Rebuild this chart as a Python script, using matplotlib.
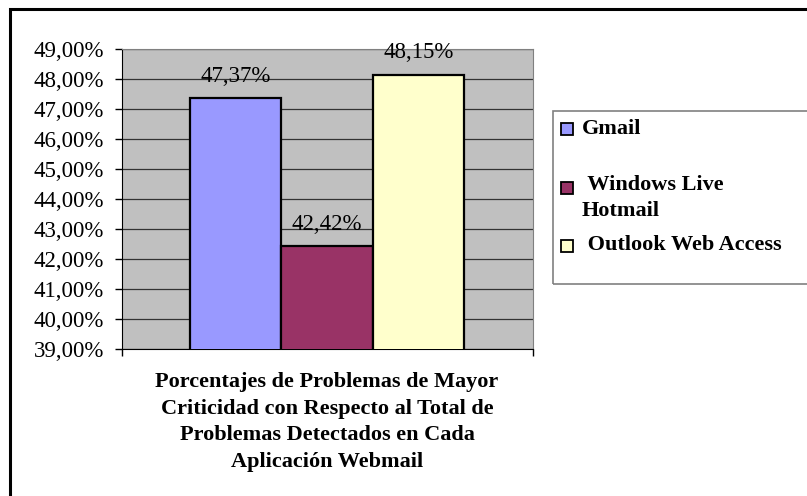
import matplotlib.pyplot as plt
from matplotlib.patches import Rectangle
from matplotlib.ticker import FuncFormatter

# data
apps = ['Gmail', ' Windows Live\nHotmail', ' Outlook Web Access']
values = [47.37, 42.42, 48.15]
colors = ['#9999FF', '#993366', '#FFFFCC']
title = ('Porcentajes de Problemas de Mayor\nCriticidad con Respecto al Total de\n'
         'Problemas Detectados en Cada\nAplicación Webmail')

plt.rcParams['font.family'] = ['Liberation Serif', 'DejaVu Serif']

W, H = 807, 496
fig = plt.figure(figsize=(W / 100, H / 100), dpi=100)


def fx(x):
    return x / W


def fy(y):
    return 1 - y / H


# outer frame (only top/left visible in the reference)
fig.add_artist(Rectangle((fx(10), fy(530)), fx(840), 530 / H - 9 / H,
                         transform=fig.transFigure, fill=False,
                         edgecolor='black', linewidth=2.2))

ax = fig.add_axes([fx(122), fy(349), fx(533 - 122), (349 - 49) / H])
ax.set_facecolor('#C0C0C0')

x = range(len(values))
bars = ax.bar(x, values, width=1.0, color=colors, edgecolor='black',
              linewidth=1.6, zorder=3)
for b, v in zip(bars, values):
    ax.annotate(f'{v:.2f}%'.replace('.', ','), (b.get_x() + b.get_width() / 2, v),
                xytext=(0, 8), textcoords='offset points', ha='center',
                va='bottom', fontsize=16.5)

ax.set_ylim(39, 49)
ax.set_xlim(-1.245, 3.255)
ax.set_yticks(range(39, 50))
ax.yaxis.set_major_formatter(FuncFormatter(lambda v, p: f'{v:.2f}%'.replace('.', ',')))
ax.yaxis.grid(True, color='#333333', linewidth=0.9, zorder=1)
ax.set_axisbelow(True)
ax.set_xticks([-1.245, 3.255])
ax.set_xticklabels([])
ax.tick_params(axis='y', direction='out', length=5, width=1, pad=8, labelsize=16.5)
ax.tick_params(axis='x', direction='out', length=5, width=1)
ax.spines['left'].set_color('black')
ax.spines['bottom'].set_color('black')
ax.spines['top'].set_color('#808080')
ax.spines['right'].set_color('#808080')

fig.text(fx(327), fy(372), title, ha='center', va='top', fontsize=16,
         fontweight='bold', linespacing=1.45)

# legend box
fig.add_artist(Rectangle((fx(553), fy(284)), fx(300), (284 - 111) / H,
                         transform=fig.transFigure, fill=False,
                         edgecolor='#808080', linewidth=1.2))
leg_y = [128.5, 187.5, 245.5]
for c, lab, y in zip(colors, apps, leg_y):
    fig.add_artist(Rectangle((fx(561), fy(y + 6)), fx(12), 12 / H,
                             transform=fig.transFigure, facecolor=c,
                             edgecolor='black', linewidth=1.3))
    if '\n' in lab:
        fig.text(fx(582), fy(y - 12), lab, ha='left', va='top', fontsize=16,
                 fontweight='bold', linespacing=1.35)
    else:
        fig.text(fx(582), fy(y), lab, ha='left', va='center', fontsize=16,
                 fontweight='bold')

fig.savefig('out.png', dpi=100)
